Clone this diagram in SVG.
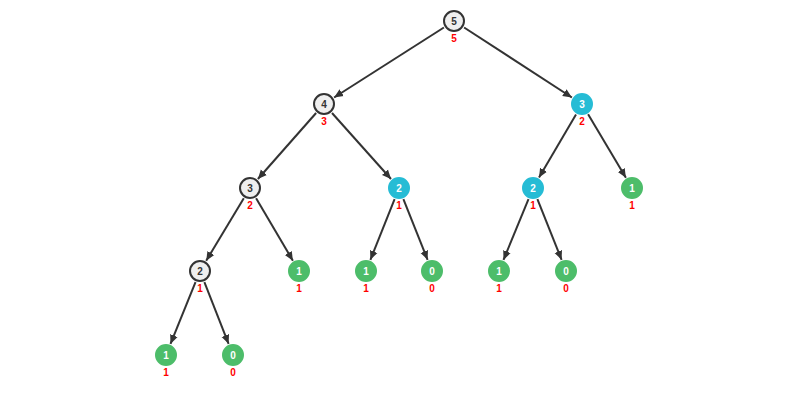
<svg xmlns="http://www.w3.org/2000/svg" width="800" height="400" viewBox="0 0 800 400">
<style>
.n{stroke-width:2}
.g{fill:#efefef;stroke:#333}
.c{fill:#26bcd5;stroke:#26bcd5}
.gr{fill:#4dbd6a;stroke:#4dbd6a}
.t{font-family:"Liberation Sans",Arial,sans-serif;font-size:10px;font-weight:bold;text-anchor:middle}
.tg{fill:#333}
.tw{fill:#fff}
.l{font-family:"Liberation Sans",Arial,sans-serif;font-size:10px;font-weight:bold;text-anchor:middle;fill:#f00}
.e{stroke:#333;stroke-width:2;fill:none;marker-end:url(#ah)}
</style>
<defs>
<marker id="ah" markerUnits="userSpaceOnUse" markerWidth="10" markerHeight="10" viewBox="0 0 10 10" refX="9" refY="5" orient="auto">
<path d="M0,1 L9,5 L0,9 Z" fill="#333"/>
</marker>
</defs>
<rect width="800" height="400" fill="#fff"/>
<g id="edges">
<line class="e" x1="443.9" y1="27.5" x2="334.1" y2="97.5"/>
<line class="e" x1="464.1" y1="27.5" x2="571.9" y2="97.5"/>
<line class="e" x1="316.1" y1="113" x2="257.9" y2="179"/>
<line class="e" x1="332" y1="113" x2="391" y2="179"/>
<line class="e" x1="576" y1="114.4" x2="539" y2="177.6"/>
<line class="e" x1="588.1" y1="114.3" x2="625.9" y2="177.7"/>
<line class="e" x1="243.8" y1="198.3" x2="206.2" y2="260.7"/>
<line class="e" x1="256.1" y1="198.3" x2="292.9" y2="260.7"/>
<line class="e" x1="394.6" y1="199.2" x2="370.4" y2="259.8"/>
<line class="e" x1="403.4" y1="199.2" x2="427.6" y2="259.8"/>
<line class="e" x1="528.5" y1="199.1" x2="503.5" y2="259.9"/>
<line class="e" x1="537.4" y1="199.2" x2="561.6" y2="259.8"/>
<line class="e" x1="195.5" y1="282.1" x2="170.5" y2="343.9"/>
<line class="e" x1="204.4" y1="282.2" x2="228.6" y2="343.8"/>
</g>
<g id="n5"><circle class="n g" cx="454" cy="21" r="10"/><text class="t tg" x="454" y="24.5">5</text><text class="l" x="454" y="42">5</text></g>
<g id="n4"><circle class="n g" cx="324" cy="104" r="10"/><text class="t tg" x="324" y="107.5">4</text><text class="l" x="324" y="125">3</text></g>
<g id="n3c"><circle class="n c" cx="582" cy="104" r="10"/><text class="t tw" x="582" y="107.5">3</text><text class="l" x="582" y="125">2</text></g>
<g id="n3g"><circle class="n g" cx="250" cy="188" r="10"/><text class="t tg" x="250" y="191.5">3</text><text class="l" x="250" y="209">2</text></g>
<g id="n2a"><circle class="n c" cx="399" cy="188" r="10"/><text class="t tw" x="399" y="191.5">2</text><text class="l" x="399" y="209">1</text></g>
<g id="n2b"><circle class="n c" cx="533" cy="188" r="10"/><text class="t tw" x="533" y="191.5">2</text><text class="l" x="533" y="209">1</text></g>
<g id="n1a"><circle class="n gr" cx="632" cy="188" r="10"/><text class="t tw" x="632" y="191.5">1</text><text class="l" x="632" y="209">1</text></g>
<g id="n2g"><circle class="n g" cx="200" cy="271" r="10"/><text class="t tg" x="200" y="274.5">2</text><text class="l" x="200" y="292">1</text></g>
<g id="n1b"><circle class="n gr" cx="299" cy="271" r="10"/><text class="t tw" x="299" y="274.5">1</text><text class="l" x="299" y="292">1</text></g>
<g id="n1c"><circle class="n gr" cx="366" cy="271" r="10"/><text class="t tw" x="366" y="274.5">1</text><text class="l" x="366" y="292">1</text></g>
<g id="n0a"><circle class="n gr" cx="432" cy="271" r="10"/><text class="t tw" x="432" y="274.5">0</text><text class="l" x="432" y="292">0</text></g>
<g id="n1d"><circle class="n gr" cx="499" cy="271" r="10"/><text class="t tw" x="499" y="274.5">1</text><text class="l" x="499" y="292">1</text></g>
<g id="n0b"><circle class="n gr" cx="566" cy="271" r="10"/><text class="t tw" x="566" y="274.5">0</text><text class="l" x="566" y="292">0</text></g>
<g id="n1e"><circle class="n gr" cx="166" cy="355" r="10"/><text class="t tw" x="166" y="358.5">1</text><text class="l" x="166" y="376">1</text></g>
<g id="n0c"><circle class="n gr" cx="233" cy="355" r="10"/><text class="t tw" x="233" y="358.5">0</text><text class="l" x="233" y="376">0</text></g>
</svg>
